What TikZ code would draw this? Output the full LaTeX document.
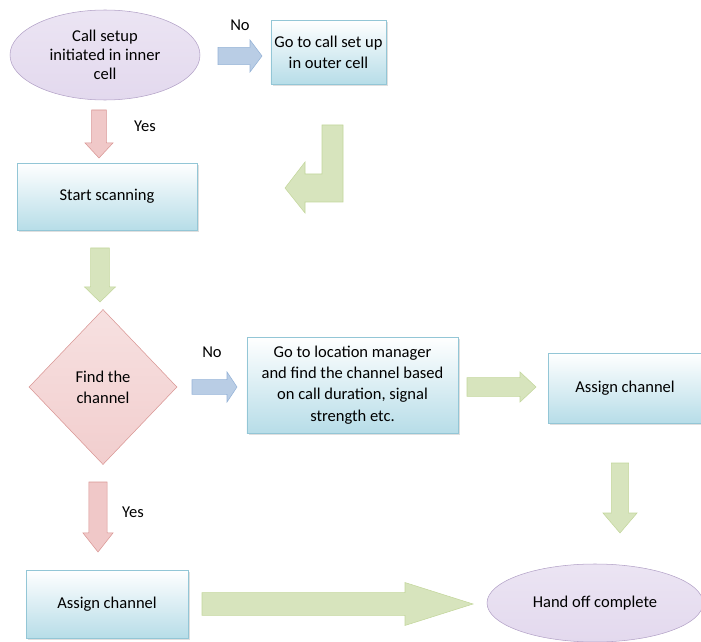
\documentclass[tikz,border=0pt]{standalone}
\usepackage{fontspec}
\setmainfont{Carlito}
\usepackage{tikz}
\usetikzlibrary{shapes,arrows,calc,shadows}

\definecolor{boxline}{HTML}{93C6D6}
\definecolor{boxfill}{HTML}{B7DDE8}
\definecolor{ovalline}{HTML}{B3A2C7}
\definecolor{ovalfill}{HTML}{E3D9EE}
\definecolor{pinkline}{HTML}{D99694}
\definecolor{pinkfill}{HTML}{F0C8C8}
\definecolor{greenline}{HTML}{C3D69B}
\definecolor{greenfill}{HTML}{D7E4BD}
\definecolor{blueline}{HTML}{95B3D7}
\definecolor{bluefill}{HTML}{B9CDE5}

\tikzset{
  box/.style={rectangle, draw=boxline, top color=white, bottom color=boxfill, align=center, inner sep=0pt,
    drop shadow={shadow xshift=1.2pt, shadow yshift=-1.2pt, opacity=0.25}},
  oval/.style={ellipse, draw=ovalline, top color=ovalfill!70, bottom color=ovalfill, align=center, inner sep=0pt},
  decide/.style={diamond, draw=pinkline, top color=pinkfill!55, bottom color=pinkfill!90, align=center, inner sep=0pt},
  lbl/.style={inner sep=0.75pt},
  greenarr/.style={draw=greenline, fill=greenfill},
  bluearr/.style={draw=blueline, fill=bluefill},
  redarr/.style={draw=pinkline, fill=pinkfill},
}

% fat block arrow: style, from, to, shaft half width, head half width, head length
\newcommand{\fatarrow}[6]{%
  \coordinate (fahead) at ($(#3)!#6!(#2)$);
  \draw[#1] ($(#2)!#4!90:(#3)$) -- ($(fahead)!#4!-90:(#2)$) -- ($(fahead)!#5!-90:(#2)$) -- (#3)
    -- ($(fahead)!#5!90:(#2)$) -- ($(fahead)!#4!90:(#2)$) -- ($(#2)!#4!-90:(#3)$) -- cycle;
}

\begin{document}
\begin{tikzpicture}[x=0.75pt,y=0.75pt,yscale=-1,xscale=1,font=\fontsize{12.4}{16}\selectfont]
  \useasboundingbox (0,0) rectangle (701,642);

  % shapes
  \node[oval, minimum width=142.5pt, minimum height=67.5pt, font=\fontsize{12.4}{14.3}\selectfont] (inner) at (105,55) {Call setup\\initiated in inner\\cell};
  \node[box, minimum width=86.3pt, minimum height=48pt] (outer) at (328.5,52) {Go to call set up\\in outer cell};
  \node[box, minimum width=135pt, minimum height=50.3pt] (scan) at (107,196.5) {Start scanning};
  \node[decide, minimum width=111pt, minimum height=116.3pt] (find) at (103,387) {Find the\\channel};
  \node[box, minimum width=158.3pt, minimum height=72pt] (locman) at (352.5,385) {Go to location manager\\and find the channel based\\on call duration, signal\\strength etc.};
  \node[box, minimum width=115pt, minimum height=52.5pt] (assignR) at (625,388) {Assign channel};
  \node[box, minimum width=121.5pt, minimum height=51pt] (assignL) at (107,604) {Assign channel};
  \node[oval, minimum width=162pt, minimum height=58.5pt] (done) at (595,603) {Hand off complete};

  % labels
  \node[lbl] (no1) at (240,25) {No};
  \node[lbl] (yes1) at (145,126) {Yes};
  \node[lbl] (no2) at (212,352) {No};
  \node[lbl] (yes2) at (133,512) {Yes};

  % arrow ends
  \coordinate (a1s) at (218,56);  \coordinate (a1e) at (262,56);
  \coordinate (a2s) at (99,110);  \coordinate (a2e) at (99,158);
  \coordinate (a3s) at (100,248); \coordinate (a3e) at (100,302);
  \coordinate (a4s) at (192,387); \coordinate (a4e) at (237,387);
  \coordinate (a5s) at (467,387); \coordinate (a5e) at (536,387);
  \coordinate (a6s) at (98,482);  \coordinate (a6e) at (98,552);
  \coordinate (a7s) at (202,604); \coordinate (a7e) at (473,604);
  \coordinate (a8s) at (620,463); \coordinate (a8e) at (620,533);

  \fatarrow{bluearr}{a1s}{a1e}{6.4pt}{12pt}{9pt}
  \fatarrow{redarr}{a2s}{a2e}{5.6pt}{10.5pt}{11.3pt}
  \fatarrow{greenarr}{a3s}{a3e}{7.1pt}{11.6pt}{11.3pt}
  \fatarrow{bluearr}{a4s}{a4e}{5.6pt}{11.3pt}{7.5pt}
  \fatarrow{greenarr}{a5s}{a5e}{7.1pt}{11.3pt}{12pt}
  \fatarrow{redarr}{a6s}{a6e}{6.8pt}{11.3pt}{14.3pt}
  \fatarrow{greenarr}{a7s}{a7e}{8.6pt}{16.1pt}{51pt}
  \fatarrow{greenarr}{a8s}{a8e}{6.4pt}{12.8pt}{15pt}

  % bent arrow back to scanning
  \draw[greenarr] (343,125) -- (343,202) -- (305,202) -- (305,213) -- (285,188) -- (305,162) -- (305,174) -- (322,174) -- (322,125) -- cycle;
\end{tikzpicture}
\end{document}
